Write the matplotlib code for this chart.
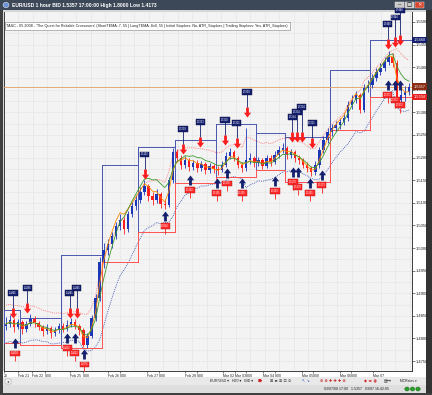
import numpy as np
import pandas as pd
import matplotlib
matplotlib.use("Agg")
import matplotlib.pyplot as plt
from matplotlib.path import Path
from matplotlib.patches import Rectangle, Circle

plt.rcParams['font.family'] = ['Liberation Sans', 'DejaVu Sans']

W, H = 432, 395

# EUR/USD bars, Feb 20 - Mar 07 2008
first_open = 1.4828
closes = [1.4832, 1.4841, 1.4825, 1.4836, 1.4821, 1.4832, 1.4843, 1.4834, 1.4825, 1.4816,
          1.4823, 1.4812, 1.4819, 1.4827, 1.4821, 1.4830, 1.4836, 1.4827, 1.4819, 1.4785,
          1.4805, 1.4845, 1.4889, 1.4969, 1.4996, 1.5009, 1.5027, 1.5049, 1.5062, 1.5042,
          1.5075, 1.5093, 1.5106, 1.5124, 1.5137, 1.5115, 1.5106, 1.5119, 1.5097, 1.5095,
          1.5150, 1.5212, 1.5199, 1.5184, 1.5195, 1.5179, 1.5188, 1.5177, 1.5186, 1.5173,
          1.5181, 1.5175, 1.5173, 1.5184, 1.5204, 1.5212, 1.5199, 1.5184, 1.5177, 1.5195,
          1.5199, 1.5188, 1.5195, 1.5181, 1.5199, 1.5190, 1.5206, 1.5217, 1.5221, 1.5206,
          1.5212, 1.5199, 1.5195, 1.5184, 1.5177, 1.5168, 1.5184, 1.5217, 1.5239, 1.5257,
          1.5266, 1.5272, 1.5279, 1.5288, 1.5316, 1.5327, 1.5339, 1.5305, 1.5354, 1.5361,
          1.5376, 1.5389, 1.5398, 1.5412, 1.5423, 1.5409, 1.5327, 1.5339, 1.5345, 1.5357]
highs = [1.4848, 1.4852, 1.4846, 1.4844, 1.4840, 1.4838, 1.4855, 1.4850, 1.4838, 1.4830,
         1.4832, 1.4828, 1.4826, 1.4835, 1.4833, 1.4840, 1.4846, 1.4842, 1.4832, 1.4824,
         1.4812, 1.4852, 1.4898, 1.4980, 1.5010, 1.5020, 1.5036, 1.5058, 1.5075, 1.5068,
         1.5082, 1.5102, 1.5118, 1.5135, 1.5150, 1.5142, 1.5125, 1.5130, 1.5124, 1.5108,
         1.5158, 1.5222, 1.5218, 1.5205, 1.5203, 1.5200, 1.5195, 1.5194, 1.5193, 1.5190,
         1.5189, 1.5186, 1.5182, 1.5192, 1.5212, 1.5222, 1.5216, 1.5203, 1.5190, 1.5265,
         1.5210, 1.5204, 1.5202, 1.5200, 1.5206, 1.5205, 1.5214, 1.5226, 1.5232, 1.5226,
         1.5220, 1.5216, 1.5206, 1.5200, 1.5190, 1.5182, 1.5192, 1.5224, 1.5248, 1.5265,
         1.5275, 1.5282, 1.5288, 1.5298, 1.5325, 1.5338, 1.5348, 1.5344, 1.5362, 1.5372,
         1.5386, 1.5398, 1.5410, 1.5422, 1.5436, 1.5432, 1.5415, 1.5352, 1.5358, 1.5366]
lows = [1.4818, 1.4826, 1.4815, 1.4820, 1.4810, 1.4815, 1.4828, 1.4826, 1.4818, 1.4806,
        1.4810, 1.4800, 1.4805, 1.4812, 1.4814, 1.4816, 1.4825, 1.4820, 1.4808, 1.4780,
        1.4778, 1.4800, 1.4838, 1.4882, 1.4955, 1.4985, 1.5000, 1.5020, 1.5040, 1.5030,
        1.5036, 1.5068, 1.5085, 1.5100, 1.5118, 1.5105, 1.5095, 1.5100, 1.5088, 1.5086,
        1.5090, 1.5144, 1.5190, 1.5175, 1.5178, 1.5170, 1.5172, 1.5168, 1.5170, 1.5164,
        1.5166, 1.5167, 1.5162, 1.5168, 1.5180, 1.5198, 1.5192, 1.5176, 1.5168, 1.5170,
        1.5186, 1.5180, 1.5182, 1.5174, 1.5176, 1.5182, 1.5186, 1.5200, 1.5210, 1.5198,
        1.5200, 1.5190, 1.5186, 1.5176, 1.5168, 1.5160, 1.5162, 1.5178, 1.5210, 1.5232,
        1.5248, 1.5258, 1.5264, 1.5272, 1.5282, 1.5308, 1.5320, 1.5298, 1.5300, 1.5346,
        1.5354, 1.5370, 1.5382, 1.5392, 1.5405, 1.5400, 1.5318, 1.5310, 1.5326, 1.5338]

# stop boxes: starting bar, upper (blue) level, lower (red) level
box_start = [0, 4, 14, 24, 33, 42, 52, 62, 69, 80, 90]
box_top = [1.4863, 1.4845, 1.4985, 1.5184, 1.5223, 1.5239, 1.5274, 1.5254, 1.5246, 1.5394, 1.5460]
box_bottom = [1.4790, 1.4785, 1.4779, 1.4969, 1.5035, 1.5144, 1.5157, 1.5173, 1.5146, 1.5261, 1.5334]

# signals: bar position and price of the arrow tip
sell_x = [1.7, 5.2, 15.7, 17.4, 34.1, 43.5, 47.7, 53.8, 56.7, 59.2, 70.3, 71.5, 72.7, 75.2, 93.8, 95.6, 96.8]
sell_y = [1.4845, 1.4856, 1.4845, 1.4845, 1.5152, 1.5208, 1.5223, 1.5228, 1.5221, 1.5290,
          1.5234, 1.5234, 1.5234, 1.5221, 1.5440, 1.5444, 1.5448]
buy_x = [2.2, 15.0, 16.9, 19.2, 39.1, 45.2, 51.8, 54.3, 58.0, 66.1, 70.5, 71.7, 74.7, 77.6, 93.8, 95.6, 96.8]
buy_y = [1.4800, 1.4812, 1.4812, 1.4776, 1.5082, 1.5162, 1.5155, 1.5176, 1.5155, 1.5159,
         1.5179, 1.5179, 1.5155, 1.5173, 1.5372, 1.5372, 1.5372]

tick_pos = [-0.45, 2.94, 6.38, 9.57, 15.7, 18.9, 25.05, 28.0, 34.6, 37.6, 43.97, 46.9,
            53.2, 56.3, 59.0, 63.1, 66.1, 72.7, 75.4, 82.1, 84.8, 90.2]
tick_txt = ["20", "Feb 21", "Feb 22", "8:00", "Feb 25", "8:00", "Feb 26", "8:00", "Feb 27", "8:00",
            "Feb 28", "8:00", "Mar 02", "Mar 03", "8:00", "Mar 04", "8:00", "Mar 05", "8:00",
            "Mar 06", "8:00", "Mar 07"]

last_price = 1.5357

BLUE = '#1c36b8'
RED = '#ff1e1e'
NAVY = '#14206e'


def px_box(fig, x0, y0, x1, y1, color, z=-1, ec='none', lw=0):
    fig.add_artist(Rectangle((x0 / W, 1 - y1 / H), (x1 - x0) / W, (y1 - y0) / H,
                             transform=fig.transFigure, facecolor=color, edgecolor=ec,
                             linewidth=lw, zorder=z))


def px_text(fig, x, y, s, **kw):
    fig.text(x / W, 1 - y / H, s, va='center', **kw)


def seg_marker(y0, y1):
    # vertical segment marker between y0 and y1 (pixels from the anchor)
    m = max(abs(y0), abs(y1))
    return Path([(0, y0), (0, y1)], [Path.MOVETO, Path.LINETO]), 2 * m * 0.72


def tema(s, n):
    e1 = s.ewm(span=n, adjust=False).mean()
    e2 = e1.ewm(span=n, adjust=False).mean()
    e3 = e2.ewm(span=n, adjust=False).mean()
    return 3 * e1 - 3 * e2 + e3


def stagger(xs):
    # labels of signals that sit close together are stacked a little
    levels, lvl, prev = [], 0, None
    for v in xs:
        lvl = lvl + 1 if prev is not None and v - prev < 2.0 else 0
        levels.append(lvl)
        prev = v
    return levels


def draw_chrome(fig):
    px_box(fig, 0, 0, W, H, '#d6d6d6', z=-3)
    px_box(fig, 0, 0, W, 10, '#3c4858', z=-2)
    fig.add_artist(Circle((6 / W, 1 - 5 / H), 3 / W, transform=fig.transFigure,
                          facecolor='#6e93d6', edgecolor='white', linewidth=0.3, zorder=1))
    px_text(fig, 12, 5, "EUR/USD 1 hour BID 1.5357 17:00:00 High 1.8000 Low 1.4173",
            fontsize=3.6, color='white', fontweight='bold')
    for x0, col, sym in [(395, '#c9c9c9', '‒'), (405, '#c9c9c9', '□'), (415, '#d8432c', '×')]:
        px_box(fig, x0, 2, x0 + 9, 8, col, z=0, ec='#f0f0f0', lw=0.3)
        px_text(fig, x0 + 4.5, 5, sym, fontsize=4, color='white' if col != '#c9c9c9' else 'black',
                ha='center', family='DejaVu Sans')
    # left / right dark frame
    px_box(fig, 0, 10, 2.5, H, '#404040', z=-2)
    px_box(fig, 426, 10, W, H, '#333333', z=-2)
    px_box(fig, 0, 393, W, H, '#404040', z=-2)
    # price axis and time axis strips
    px_box(fig, 412, 12, 426, 371, '#ffffff', z=-2)
    px_box(fig, 2.5, 371, 426, 377, '#ffffff', z=-2)
    # toolbar and status bar
    px_box(fig, 2.5, 377, 426, 385, '#e9e9e9', z=-2)
    px_box(fig, 2.5, 385, 426, 393, '#dedede', z=-2)
    px_box(fig, 5, 378.5, 11, 383.5, '#f6f6f6', z=0, ec='#909090', lw=0.3)
    px_text(fig, 8, 381, "◂", fontsize=3, ha='center', color='#404040', family='DejaVu Sans')
    px_text(fig, 210, 381, "EUR/USD ▾   H60 ▾   BID ▾", fontsize=2.6, color='#202020')
    px_text(fig, 258, 381, "■▾", fontsize=2.6, color='#d02020', family='DejaVu Sans')
    px_text(fig, 270, 381, "⊞ ≡ ≣ ⊡ ⊙", fontsize=2.8, color='#303030', family='DejaVu Sans')
    px_text(fig, 302, 381, "↖ ↘", fontsize=2.8, color='#3050c0', family='DejaVu Sans')
    px_text(fig, 320, 381, "⊕ ⊕ ✚ ✚ ✚ ⊗", fontsize=2.8, color='#c02020', family='DejaVu Sans')
    px_text(fig, 364, 381, "◆ ◂▸ ◉", fontsize=2.8, color='#d02020', family='DejaVu Sans')
    px_text(fig, 384, 381, "▤─▾", fontsize=2.8, color='#303030', family='DejaVu Sans')
    px_text(fig, 400, 381, "MCRates ▾", fontsize=2.4, color='#202020')
    px_text(fig, 324, 389, "03/07/08 17:00   1.5357   03/07 16:42:05", fontsize=2.6, color='#202020')
    for cx in [407, 412.5, 418]:
        fig.add_artist(Circle((cx / W, 1 - 389 / H), 2.2 / W, transform=fig.transFigure,
                              facecolor='#2aa02a', edgecolor='#106010', linewidth=0.3, zorder=1))


def main():
    fig = plt.figure(figsize=(W / 100, H / 100), dpi=100)
    draw_chrome(fig)

    ax = fig.add_axes([4 / W, 24 / H, 408 / W, 359 / H])
    ax.set_facecolor('#f3f3f3')
    ax.set_xlim(-0.5, 99.75)
    ax.set_ylim(1.47279, 1.55221)

    # dotted grid
    for gy in np.arange(1.4750, 1.5525, 0.0025):
        ax.axhline(gy, color='#c4c4c4', lw=0.4, ls=(0, (1, 2)), zorder=0)
    for gx in np.arange(-0.5, 100, 3.56):
        ax.axvline(gx, color='#c4c4c4', lw=0.4, ls=(0, (1, 2)), zorder=0)

    n = len(closes)
    x = np.arange(n)
    c = np.array(closes)
    o = np.concatenate([[first_open], c[:-1]])
    hi = np.array(highs)
    lo = np.array(lows)

    # indicators
    s = pd.Series(closes)
    prev = pd.Series(o)
    tr = pd.concat([pd.Series(hi - lo), (pd.Series(hi) - prev).abs(),
                    (pd.Series(lo) - prev).abs()], axis=1).max(axis=1)
    atr = tr.ewm(span=8, adjust=False).mean()
    mid = s.ewm(span=7, adjust=False).mean()
    ax.plot(x, mid + 1.4 * atr, color='#ff6a6a', lw=0.6, ls=(0, (1, 1.3)), zorder=2)
    ax.plot(x, mid - 1.4 * atr, color='#2a44b0', lw=0.6, ls=(0, (1, 1.3)), zorder=2)

    # stop boxes
    ends = box_start[1:] + [n]
    for k in range(len(box_start)):
        x0, x1 = box_start[k] - 0.5, min(ends[k] - 0.5, 99.75)
        ax.plot([x0, x1], [box_top[k], box_top[k]], color='#4a58b0', lw=0.7, zorder=3)
        ax.plot([x0, x1], [box_bottom[k], box_bottom[k]], color='#ff5050', lw=0.7, zorder=3)
        ax.plot([x0, x0], [box_bottom[k], box_top[k]], color='#4a58b0', lw=0.7, zorder=3)
        if k > 0:
            ax.plot([x0, x0], [box_top[k - 1], box_top[k]], color='#4a58b0', lw=0.7, zorder=3)
            ax.plot([x0, x0], [box_bottom[k - 1], box_bottom[k]], color='#ff5050', lw=0.7, zorder=3)

    # candles
    up = c >= o
    cols = np.where(up, BLUE, RED)
    ax.vlines(x, lo, hi, colors=cols, lw=0.6, zorder=4)
    body = np.maximum(np.abs(c - o), 0.00008)
    ax.bar(x, body, bottom=np.minimum(o, c), width=0.6, color=cols, zorder=4, linewidth=0)

    ax.plot(x, tema(s, 8), color='#ff8a00', lw=0.6, zorder=5)
    ax.plot(x, tema(s, 14), color='#3f9a2e', lw=0.6, zorder=5)

    ax.axhline(last_price, color='#e0a060', lw=0.6, zorder=3)

    # signal markers
    down_arrow = Path([(0, 0), (-0.36, 0.48), (-0.14, 0.48), (-0.14, 1), (0.14, 1),
                       (0.14, 0.48), (0.36, 0.48), (0, 0)])
    up_arrow = Path([(0, 0), (-0.36, -0.48), (-0.14, -0.48), (-0.14, -1), (0.14, -1),
                     (0.14, -0.48), (0.36, -0.48), (0, 0)])

    ax.plot(sell_x, sell_y, ls='none', marker=down_arrow, ms=14.4, color=RED, mew=0, zorder=7)
    for sx, sy, lvl in zip(sell_x, sell_y, stagger(sell_x)):
        off = 25 + 5 * lvl
        stem, ms = seg_marker(10, off - 2)
        ax.plot([sx], [sy], ls='none', marker=stem, ms=ms, mec=NAVY, mew=0.6, zorder=7)
        ax.annotate(f"{sy:.4f}", xy=(sx, sy), xytext=(0, off * 0.72), textcoords='offset points',
                    ha='center', va='center', fontsize=1.8, color='white', zorder=8,
                    bbox=dict(boxstyle='square,pad=0.3', fc=NAVY, ec='#0a1040', lw=0.3))

    ax.plot(buy_x, buy_y, ls='none', marker=up_arrow, ms=14.4, color=NAVY, mew=0, zorder=7)
    for bx, by, lvl in zip(buy_x, buy_y, stagger(buy_x)):
        off = 15 + 5 * lvl
        stem, ms = seg_marker(-(off + 2.5), -(off + 8))
        ax.plot([bx], [by], ls='none', marker=stem, ms=ms, mec=RED, mew=0.6, zorder=7)
        ax.annotate(f"{by:.4f}", xy=(bx, by), xytext=(0, -off * 0.72), textcoords='offset points',
                    ha='center', va='center', fontsize=1.8, color='white', zorder=8,
                    bbox=dict(boxstyle='square,pad=0.3', fc='#ff2a2a', ec='#b01010', lw=0.3))

    # info box
    ax.text(0.006, 0.962, "TASC - 05.2008 - 'The Quest for Reliable Crossovers' (ShortTEMA: 7, 55 | "
            "LongTEMA: 8x0, 55 | Initial Stoploss: No, ATR_Stoploss | Trailing Stoploss: Yes, ATR_Stoploss)",
            transform=ax.transAxes, fontsize=2.7, color='#202020', va='center', ha='left', zorder=9,
            bbox=dict(boxstyle='square,pad=0.5', fc='white', ec='#808080', lw=0.4))

    # axes
    ax.yaxis.tick_right()
    yt = np.arange(1.4750, 1.55001, 0.005)
    ax.set_yticks(yt)
    ax.set_yticklabels([f"{v:.4f}" for v in yt])
    ax.set_yticks(np.arange(1.4730, 1.5522, 0.001), minor=True)
    ax.tick_params(axis='y', which='major', labelsize=3, length=2, width=0.4, pad=1, colors='#202020')
    ax.tick_params(axis='y', which='minor', length=1, width=0.3, colors='#404040')
    ax.set_xticks(tick_pos)
    ax.set_xticklabels(tick_txt)
    ax.tick_params(axis='x', labelsize=2.5, length=1.5, width=0.4, pad=0.8, colors='#202020')
    for lbl in ax.get_xticklabels():
        lbl.set_ha('left')
    ax.spines['top'].set_visible(False)
    for sp in ['left', 'right', 'bottom']:
        ax.spines[sp].set_linewidth(0.6)
        ax.spines[sp].set_color('#202020')

    tr_y = ax.get_yaxis_transform()
    for val, fc in [(box_top[-1], NAVY), (last_price, '#8a2c14'), (box_bottom[-1], '#e82020')]:
        ax.text(1.004, val, f"{val:.4f}", transform=tr_y, fontsize=2.8, color='white',
                ha='left', va='center', zorder=10, clip_on=False,
                bbox=dict(boxstyle='square,pad=0.3', fc=fc, ec='none'))

    fig.savefig('out.png', dpi=100)


if __name__ == "__main__":
    main()
